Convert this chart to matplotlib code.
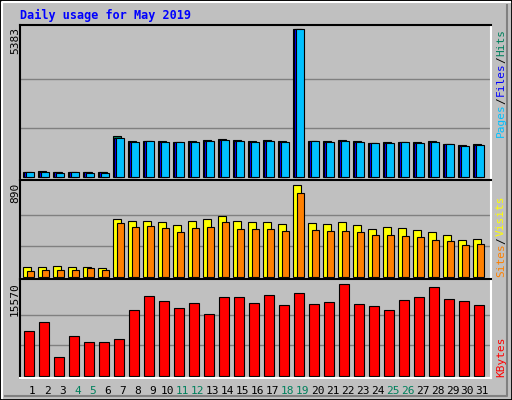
import matplotlib
matplotlib.use("Agg")
import matplotlib.pyplot as plt
from matplotlib.patches import Rectangle
from matplotlib.lines import Line2D

days = list(range(1, 32))
day_labels = [str(d) for d in days]
weekend_days = [4, 5, 11, 12, 18, 19, 25, 26]
hits = [158,195,158,158,158,158,1474,1291,1291,1291,1254,1291,1327,1364,1327,1291,1327,1291,5383,1291,1291,1327,1291,1218,1254,1254,1254,1291,1181,1145,1181]
files = [158,158,158,158,158,158,1400,1254,1291,1254,1254,1254,1291,1327,1291,1254,1291,1254,5383,1291,1254,1291,1254,1218,1218,1254,1218,1254,1181,1108,1145]
pages = [158,158,122,158,122,122,1400,1254,1291,1254,1254,1254,1291,1327,1291,1254,1291,1254,5383,1291,1254,1291,1254,1218,1218,1254,1218,1254,1181,1108,1145]
sites = [90,90,100,90,90,81,555,535,535,526,497,535,555,584,535,526,526,506,890,516,506,526,497,458,477,468,448,429,400,352,361]
visits = [52,61,61,61,81,61,516,477,487,468,429,468,477,526,458,458,458,439,806,448,439,439,429,400,400,390,381,352,342,303,313]
kbytes = [7556,9092,3125,6706,5683,5683,6194,11138,13525,12673,11480,12332,10456,13355,13355,12332,13696,11991,14037,12161,12502,15570,12161,11820,11138,12843,13355,15060,13014,12673,11991]

W, H = 512, 400
fig = plt.figure(figsize=(5.12, 4.0), dpi=100)
fig.patch.set_facecolor("#C0C0C0")
mono = "DejaVu Sans Mono"

# outer 3D frame
fig.add_artist(Rectangle((0, 0), 1, 1, transform=fig.transFigure, fill=False, ec="black", lw=2))
fig.add_artist(Line2D([2/W, 2/W, 1-2/W], [2/H, 1-2/H, 1-2/H], transform=fig.transFigure, color="white", lw=1.5))
fig.add_artist(Line2D([5/W, 1-5/W, 1-5/W], [4/H, 4/H, 1-5/H], transform=fig.transFigure, color="#808080", lw=1.5))

def make_ax(ytop, ybot):
    ax = fig.add_axes([20/W, 1-ybot/H, (491-20)/W, (ybot-ytop)/H])
    ax.set_facecolor("#C0C0C0")
    ax.set_xlim(0.267, 31.67)
    ax.set_xticks([]); ax.set_yticks([])
    for s in ["top", "left"]:
        ax.spines[s].set_color("black")
    for s in ["bottom", "right"]:
        ax.spines[s].set_color("white")
    for s in ax.spines.values():
        s.set_linewidth(1.5)
    return ax

ek = dict(edgecolor="black", linewidth=0.8, align="edge")

# top panel
ax1 = make_ax(25, 180)
mx = max(hits)
ax1.set_ylim(-120, 5544)
for g in (mx/3, 2*mx/3):
    ax1.axhline(g, color="#808080", lw=1, zorder=0)
ax1.bar([d-0.55 for d in days], hits, width=0.55, color="#00805C", **ek)
ax1.bar([d-0.47 for d in days], files, width=0.55, color="#0000FF", **ek)
ax1.bar([d-0.30 for d in days], pages, width=0.53, color="#00C0FF", **ek)

# middle panel
ax2 = make_ax(180, 279)
mx2 = max(sites)
ax2.set_ylim(-22, 935)
for g in (mx2/3, 2*mx2/3):
    ax2.axhline(g, color="#808080", lw=1, zorder=0)
ax2.bar([d-0.55 for d in days], sites, width=0.53, color="#FFFF00", **ek)
ax2.bar([d-0.28 for d in days], visits, width=0.51, color="#FF8000", **ek)

# bottom panel
ax3 = make_ax(279, 378)
mx3 = max(kbytes)
ax3.set_ylim(-392, 16490)
for g in (mx3/3, 2*mx3/3):
    ax3.axhline(g, color="#808080", lw=1, zorder=0)
ax3.bar([d-0.48 for d in days], kbytes, width=0.69, color="#FF0000", **ek)

for d, lab in zip(days, day_labels):
    ax3.text(d + 0.1, -0.08, lab, transform=ax3.get_xaxis_transform(), ha="center", va="top",
             fontsize=8, family=mono, color="#00805C" if d in weekend_days else "black")

# title
fig.text(20/W, 1-15/H, "Daily usage for May 2019", color="#0000FF", fontsize=8.5,
         family=mono, fontweight="bold", va="center", ha="left")

# left max labels
def ylab(y, s):
    fig.text(15/W, 1-y/H, s, rotation=90, fontsize=8, family=mono, ha="center", va="top")
ylab(27, "5383"); ylab(183, "890"); ylab(282, "15570")

# right legends (bottom to top)
def rpiece(ybottom, s, c):
    fig.text(501/W, 1-ybottom/H, s, rotation=90, fontsize=8, family=mono, color=c, ha="center", va="bottom")
rpiece(137, "Pages", "#00C0FF")
rpiece(104, "/", "black")
rpiece(96, "Files", "#0000FF")
rpiece(63, "/", "black")
rpiece(56, "Hits", "#00805C")
rpiece(277, "Sites", "#FF8000")
rpiece(244, "/", "black")
rpiece(236, "Visits", "#FFFF00")
rpiece(377, "KBytes", "#FF0000")

fig.savefig("out.png", dpi=100, facecolor=fig.get_facecolor())
